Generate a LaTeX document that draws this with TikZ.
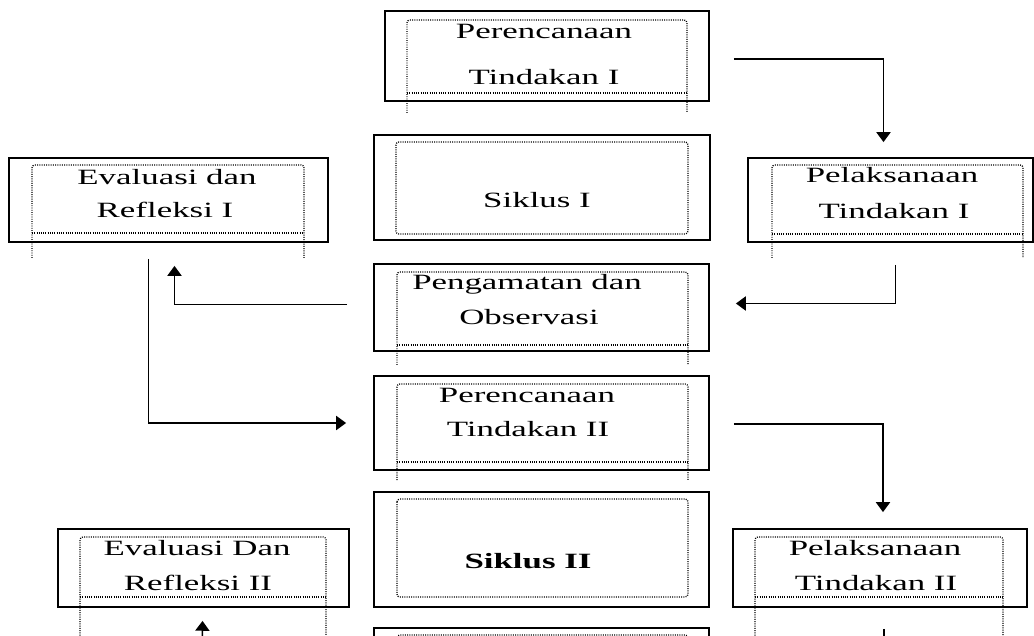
\documentclass[tikz,border=0pt]{standalone}
\usepackage{fontspec}
\setmainfont{Liberation Serif}[FakeStretch=1.6]
\usetikzlibrary{arrows.meta,calc,fit}
\tikzset{
  kotak/.style={draw=black, line width=1.3pt, inner sep=0pt},
  garis/.style={draw=black, line width=0.9pt, dash pattern=on 0.7pt off 0.9pt, rounded corners=2pt},
  teks/.style={anchor=base, inner sep=0pt, font=\fontsize{15.5}{18}\selectfont},
  panah/.style={draw=black, line width=1.1pt, -{Triangle[width=10pt,length=7pt]}},
  sambung/.style={draw=black, line width=1.1pt}
}
\begin{document}
\begin{tikzpicture}[x=0.025cm, y=-0.025cm]
\useasboundingbox (0,0) rectangle (1034,636);
\clip (0,0) rectangle (1034,636);

% kotak luar
\node[kotak, fit={(385,11) (709,101)}] (pren1) {};
\node[kotak, fit={(374,135) (710,240)}] (sik1) {};
\node[kotak, fit={(9,158) (328,242)}] (eval1) {};
\node[kotak, fit={(748,158) (1033,242)}] (pel1) {};
\node[kotak, fit={(374,264) (709,351)}] (peng) {};
\node[kotak, fit={(374,376) (709,470)}] (pren2) {};
\node[kotak, fit={(374,492) (709,607)}] (sik2) {};
\node[kotak, fit={(58,529) (349,607)}] (eval2) {};
\node[kotak, fit={(733,529) (1027,607)}] (pel2) {};
\node[kotak, fit={(374,628) (709,720)}] (peng2) {};

% kotak titik-titik
\draw[garis] (407,113) |- (687,20) -- (687,113);
\draw[garis, line width=1.3pt] (407,93) -- (687,93);
\draw[garis] (396,142) rectangle (688,234);
\draw[garis] (32,258) |- (304,165) -- (304,258);
\draw[garis, line width=1.3pt] (32,233) -- (304,233);
\draw[garis] (772,258) |- (1023,165) -- (1023,258);
\draw[garis, line width=1.3pt] (772,234) -- (1023,234);
\draw[garis] (397,365) |- (688,272) -- (688,365);
\draw[garis, line width=1.3pt] (397,345) -- (688,345);
\draw[garis] (397,480) |- (688,384) -- (688,480);
\draw[garis, line width=1.3pt] (397,462) -- (688,462);
\draw[garis] (397,499) rectangle (688,597);
\draw[garis] (80,640) |- (326,537) -- (326,640);
\draw[garis, line width=1.3pt] (80,597) -- (326,597);
\draw[garis] (755,640) |- (1003,537) -- (1003,640);
\draw[garis, line width=1.3pt] (755,597) -- (1003,597);
\draw[garis] (397,660) |- (688,635) -- (688,660);

% teks
\node[teks] (pren1a) at (544,39) {Perencanaan};
\node[teks] (pren1b) at (544,85) {Tindakan I};
\node[teks] (sik1a) at (537,208) {Siklus I};
\node[teks] (eval1a) at (167,185) {Evaluasi dan};
\node[teks] (eval1b) at (165,218) {Refleksi I};
\node[teks] (pel1a) at (892,183) {Pelaksanaan};
\node[teks] (pel1b) at (894,219) {Tindakan I};
\node[teks] (penga) at (527,290) {Pengamatan dan};
\node[teks] (pengb) at (529,325) {Observasi};
\node[teks] (pren2a) at (527,403) {Perencanaan};
\node[teks] (pren2b) at (528,437) {Tindakan II};
\node[teks, font=\fontsize{15.5}{18}\selectfont\bfseries] (sik2a) at (528,568) {Siklus II};
\node[teks] (eval2a) at (197,555) {Evaluasi Dan};
\node[teks] (eval2b) at (198,590) {Refleksi II};
\node[teks] (pel2a) at (875,555) {Pelaksanaan};
\node[teks] (pel2b) at (876,590) {Tindakan II};

% panah
\draw[panah] ($(pren1.east)+(24,3)$) -| ($(pel1.north)+(-7,-15)$);
\draw[panah] ($(pel1.south)+(5,22)$) |- ($(peng.east)+(26,-4)$);
\draw[panah] ($(peng.west)+(-26,-3)$) -| ($(eval1.south)+(6,23)$);
\draw[panah] ($(eval1.south)+(-20,16)$) |- ($(pren2.west)+(-27,0)$);
\draw[panah] ($(pren2.east)+(24,1)$) -| ($(pel2.north)+(3,-16)$);
\coordinate (bawah1) at (884,660);
\coordinate (bawah2) at (202,660);
\draw[sambung] ($(pel2.south)+(4,21)$) -- (bawah1);
\draw[panah] (bawah2) -- ($(eval2.south)+(-1,13)$);
\end{tikzpicture}
\end{document}
